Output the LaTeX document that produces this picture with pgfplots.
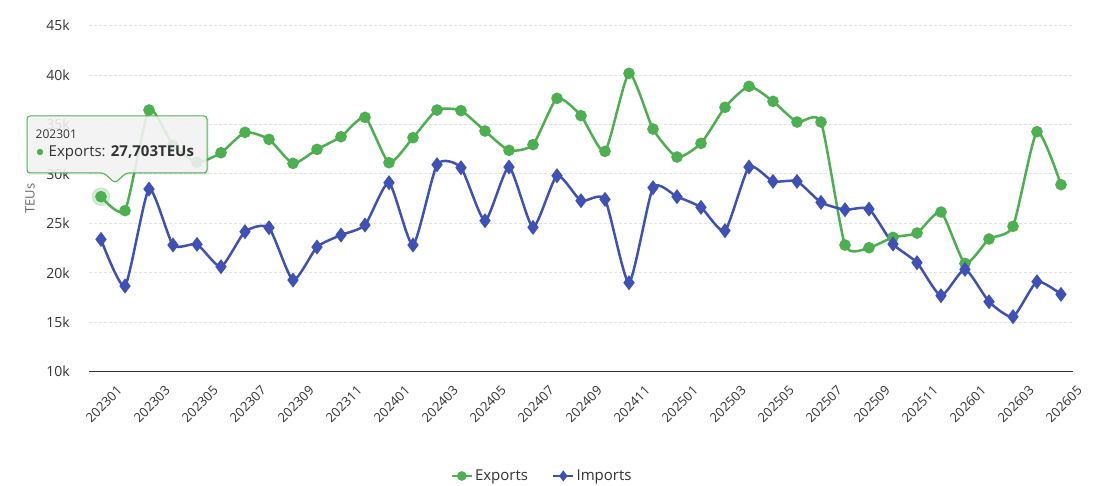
\documentclass[border=0pt]{standalone}
\usepackage{pgfplots}
\pgfplotsset{compat=1.18}
\usepackage{fontspec}
\setmainfont{Open Sans}

\definecolor{expgreen}{RGB}{76,175,80}
\definecolor{impblue}{RGB}{63,81,181}
\definecolor{gridgray}{RGB}{226,226,226}
\definecolor{txt}{RGB}{51,51,51}
\definecolor{axisgray}{RGB}{102,102,102}

% Monthly container volumes, index 0 = 202301 ... 40 = 202605
\pgfplotstableread{
i  exports imports
0  27703   23387
1  26290   18666
2  36470   28478
3  32900   22814
4  31175   22881
5  32150   20622
6  34210   24162
7  33500   24567
8  31075   19273
9  32490   22611
10 33770   23825
11 35730   24837
12 31142   29119
13 33671   22814
14 36470   30940
15 36403   30637
16 34346   25275
17 32390   30704
18 32963   24600
19 37650   29827
20 35897   27298
21 32289   27433
22 40179   19003
23 34548   28613
24 31716   27703
25 33098   26624
26 36740   24264
27 38864   30704
28 37347   29254
29 35256   29254
30 35256   27130
31 22814   26388
32 22544   26456
33 23589   22915
34 24028   21026
35 26152   17688
36 20959   20352
37 23421   17081
38 24702   15564
39 34278   19104
40 28917   17823
}\teus

\begin{document}
\begin{tikzpicture}[x=1pt,y=1pt]
\path[use as bounding box] (0,0) rectangle (1112,486);
\begin{axis}[
  at={(89pt,114.3pt)}, anchor=south west,
  scale only axis, width=984pt, height=346pt,
  xmin=-0.5, xmax=40.5, ymin=10000, ymax=45000,
  scaled y ticks=false,
  axis x line*=bottom, axis y line*=left,
  x axis line style={txt, line width=1pt},
  y axis line style={draw=none},
  major tick length=0pt,
  xtick={0,2,...,40},
  xticklabels={202301,202303,202305,202307,202309,202311,202401,202403,202405,202407,202409,202411,202501,202503,202505,202507,202509,202511,202601,202603,202605},
  ytick={10000,15000,20000,25000,30000,35000,40000,45000},
  yticklabels={10k,15k,20k,25k,30k,35k,40k,45k},
  /pgf/number format/assume math mode=true,
  xticklabel style={rotate=45, anchor=north east, inner sep=0pt, xshift=1.5pt, yshift=-20pt,
    font=\fontsize{13}{15}\selectfont, text=txt},
  yticklabel style={anchor=east, inner sep=0pt, xshift=-19pt,
    font=\fontsize{14}{16}\selectfont, text=txt},
  ymajorgrids, grid style={gridgray, line width=1pt, dash pattern=on 3pt off 2pt},
  ylabel={TEUs},
  ylabel style={at={([xshift=-59pt]axis description cs:0,0.5)}, anchor=center,
    font=\fontsize{13}{15}\selectfont, text=axisgray},
  legend style={at={(axis description cs:0.4604,-0.3014)}, anchor=center, draw=none,
    font=\fontsize{15}{17}\selectfont, text=txt,
    legend columns=2, /tikz/every even column/.append style={column sep=22pt}},
  legend image code/.code={
    \draw[mark repeat=2, mark phase=2, #1, mark size=3.5pt] plot coordinates {(0pt,0pt) (10pt,0pt) (20pt,0pt)};},
  clip=false,
]
\addplot[expgreen, line width=2.5pt, smooth, tension=0.35, mark=*, mark size=4.5pt,
  mark options={solid}] table[x=i, y=exports] {\teus};
\addlegendentry{Exports}
\addplot[impblue, line width=2.5pt, smooth, tension=0.35, mark=diamond*, mark size=5.5pt,
  mark options={solid}] table[x=i, y=imports] {\teus};
\addlegendentry{Imports}
% hover halo on the first export point
\addplot[only marks, mark=*, mark size=9pt, color=expgreen, opacity=0.25, forget plot]
  coordinates {(0,27703)};
\end{axis}

% tooltip
\fill[black, opacity=0.06] (29,368) -- (209,368) -- (209,311) -- (127,311) -- (117,301) -- (107,311) -- (29,311) -- cycle;
\filldraw[draw=expgreen, line width=1pt, fill=white!96!black, fill opacity=0.88, rounded corners=3pt]
  (27,370) -- (207,370) -- (207,313) -- (126,313) -- (115,303) -- (104,313) -- (27,313) -- cycle;
\node[anchor=base west, inner sep=0pt, text=txt, font=\fontsize{12}{14}\selectfont] at (35.5,347) {202301};
\fill[expgreen] (40,334) circle (3.2pt);
\node[anchor=base west, inner sep=0pt, text=txt, font=\fontsize{15}{17}\selectfont] at (48.5,329)
  {Exports: \textbf{27,703TEUs}};
\end{tikzpicture}
\end{document}
